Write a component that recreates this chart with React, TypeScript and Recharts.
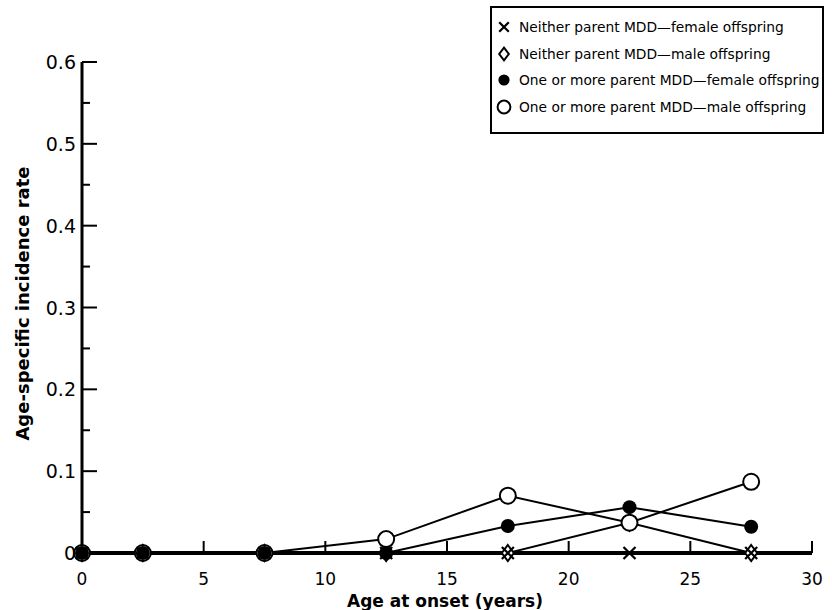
import { LineChart, Line, XAxis, YAxis, Legend } from 'recharts'

const ages = [0, 2.5, 7.5, 12.5, 17.5, 22.5, 27.5]
const neitherFemale = [0, 0, 0, 0, 0, 0, 0]
const neitherMale = [0, 0, 0, 0, 0, 0.037, 0]
const oneFemale = [0, 0, 0, 0, 0.033, 0.056, 0.032]
const oneMale = [0, 0, 0, 0.017, 0.07, 0.037, 0.087]

const xTicks = [0, 5, 10, 15, 20, 25, 30]
const yTicks = [0, 0.05, 0.1, 0.15, 0.2, 0.25, 0.3, 0.35, 0.4, 0.45, 0.5, 0.55, 0.6]

const seriesList = [
  { key: 'nf', kind: 'cross', name: 'Neither parent MDD\u2014female offspring' },
  { key: 'nm', kind: 'diamond', name: 'Neither parent MDD\u2014male offspring' },
  { key: 'of', kind: 'filled', name: 'One or more parent MDD\u2014female offspring' },
  { key: 'om', kind: 'open', name: 'One or more parent MDD\u2014male offspring' },
]

const data = ages.map((age, i) => ({
  age,
  nf: neitherFemale[i],
  nm: neitherMale[i],
  of: oneFemale[i],
  om: oneMale[i],
}))

const font = '"DejaVu Sans", Lato, sans-serif'

function Marker({ kind, cx, cy, s = 1 }: any) {
  if (kind === 'cross') {
    const d = 6 * s
    return (
      <path
        d={`M${cx - d},${cy - d}L${cx + d},${cy + d}M${cx + d},${cy - d}L${cx - d},${cy + d}`}
        stroke="#000"
        strokeWidth={2.2}
        fill="none"
      />
    )
  }
  if (kind === 'diamond') {
    const w = 6 * s
    const h = 8 * s
    return (
      <path
        d={`M${cx},${cy - h}L${cx + w},${cy}L${cx},${cy + h}L${cx - w},${cy}Z`}
        fill="#fff"
        stroke="#000"
        strokeWidth={2}
      />
    )
  }
  if (kind === 'filled') return <circle cx={cx} cy={cy} r={7 * s} fill="#000" />
  return <circle cx={cx} cy={cy} r={8 * s} fill="#fff" stroke="#000" strokeWidth={2} />
}

const dotFor = (kind: string) => (p: any) => (
  <g key={`${kind}-${p.index}`}>
    <Marker kind={kind} cx={p.cx} cy={p.cy} />
  </g>
)

function YTick({ x, y, payload }: any) {
  const v = payload.value
  const major = Math.round(v * 20) % 2 === 0
  return (
    <g>
      {v !== 0 && (
        <line x1={x} x2={x + (major ? 15 : 8)} y1={y} y2={y} stroke="#000" strokeWidth={2} />
      )}
      {major && (
        <text x={x - 6} y={y + 7} textAnchor="end" fontSize={19} fontFamily={font} fill="#000">
          {v === 0 ? '0' : v.toFixed(1)}
        </text>
      )}
    </g>
  )
}

function XTick({ x, y, payload }: any) {
  const v = payload.value
  return (
    <g>
      {v !== 0 && <line x1={x} x2={x} y1={y} y2={y - 12} stroke="#000" strokeWidth={2} />}
      <text x={x} y={y + 32} textAnchor="middle" fontSize={17} fontFamily={font} fill="#000">
        {v}
      </text>
    </g>
  )
}

function YTitle({ viewBox }: any) {
  const x = viewBox.x + 22
  const y = viewBox.y + viewBox.height / 2 - 4
  return (
    <text
      x={x}
      y={y}
      transform={`rotate(-90, ${x}, ${y})`}
      textAnchor="middle"
      dominantBaseline="central"
      fontSize={18}
      fontWeight="bold"
      fontFamily={font}
      fill="#000"
    >
      Age-specific incidence rate
    </text>
  )
}

function XTitle({ viewBox }: any) {
  return (
    <text
      x={viewBox.x + viewBox.width / 2 - 2}
      y={viewBox.y + 54}
      textAnchor="middle"
      fontSize={17}
      fontWeight="bold"
      fontFamily={font}
      fill="#000"
    >
      Age at onset (years)
    </text>
  )
}

function LegendBox() {
  return (
    <div
      style={{
        border: '2px solid #000',
        width: 334,
        height: 128,
        boxSizing: 'border-box',
        background: '#fff',
        paddingTop: 6,
        fontFamily: font,
        fontSize: 13.8,
        color: '#000',
        whiteSpace: 'nowrap',
      }}
    >
      {seriesList.map((s) => (
        <div key={s.key} style={{ display: 'flex', alignItems: 'center', height: 26.5 }}>
          <svg width={26} height={26} style={{ marginRight: 1, flexShrink: 0 }}>
            <Marker kind={s.kind} cx={12} cy={13} s={0.8} />
          </svg>
          <span>{s.name}</span>
        </div>
      ))}
    </div>
  )
}

export default function App() {
  return (
    <div style={{ position: 'absolute', left: 0, top: 0, background: '#fff' }}>
      <LineChart
        width={832}
        height={610}
        data={data}
        margin={{ top: 62, right: 20, left: 0, bottom: 0 }}
        style={{ fontFamily: font }}
      >
        <XAxis
          dataKey="age"
          type="number"
          domain={[0, 30]}
          ticks={xTicks}
          interval={0}
          height={57}
          tickSize={0}
          tickMargin={0}
          tickLine={false}
          axisLine={{ stroke: '#000', strokeWidth: 4 }}
          tick={<XTick />}
          label={XTitle}
        />
        <YAxis
          type="number"
          domain={[0, 0.6]}
          ticks={yTicks}
          interval={0}
          width={82}
          tickSize={0}
          tickMargin={0}
          tickLine={false}
          axisLine={{ stroke: '#000', strokeWidth: 3 }}
          tick={<YTick />}
          label={YTitle}
        />
        <Legend
          layout="vertical"
          align="center"
          verticalAlign="middle"
          wrapperStyle={{ top: 6, left: 490, width: 334, height: 128 }}
          content={<LegendBox />}
        />
        <Line dataKey="nm" name={seriesList[1].name} stroke="#000" strokeWidth={2} dot={dotFor('diamond')} activeDot={false} isAnimationActive={false} />
        <Line dataKey="om" name={seriesList[3].name} stroke="#000" strokeWidth={2} dot={dotFor('open')} activeDot={false} isAnimationActive={false} />
        <Line dataKey="of" name={seriesList[2].name} stroke="#000" strokeWidth={2} dot={dotFor('filled')} activeDot={false} isAnimationActive={false} />
        <Line dataKey="nf" name={seriesList[0].name} stroke="#000" strokeWidth={2} dot={dotFor('cross')} activeDot={false} isAnimationActive={false} />
      </LineChart>
    </div>
  )
}
